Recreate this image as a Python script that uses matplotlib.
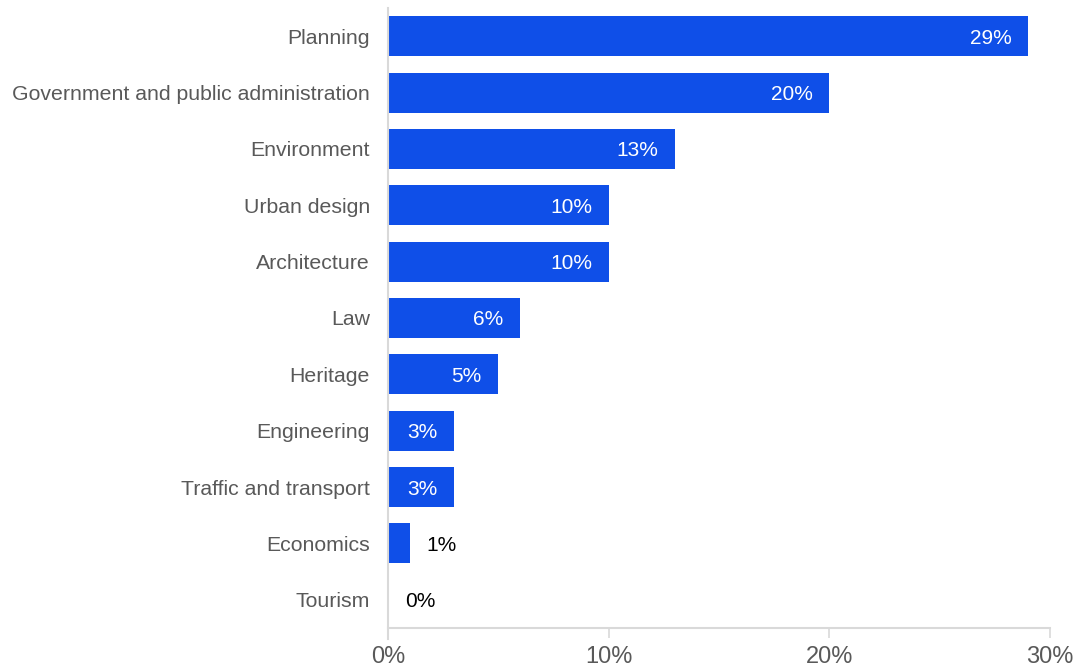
import matplotlib.pyplot as plt
from matplotlib.ticker import FuncFormatter

# data
categories = ["Planning", "Government and public administration", "Environment",
              "Urban design", "Architecture", "Law", "Heritage", "Engineering",
              "Traffic and transport", "Economics", "Tourism"]
shares = [29, 20, 13, 10, 10, 6, 5, 3, 3, 1, 0]

plt.rcParams['font.family'] = ['Liberation Sans', 'DejaVu Sans']

fig = plt.figure(figsize=(10.82, 6.71), dpi=100)
ax = fig.add_axes([388/1082, 1 - 628/671, (1050 - 388)/1082, (628 - 8)/671])

bar_color = "#0f4fe8"
grey = "#d9d9d9"
ypos = list(range(len(categories)))
ax.barh(ypos, shares, height=0.71, color=bar_color)

for y, v in zip(ypos, shares):
    if v >= 3:
        ax.annotate(f"{v}%", (v, y), xytext=(-12, 0), textcoords="offset points",
                    ha="right", va="center_baseline", color="white", fontsize=15)
    else:
        ax.annotate(f"{v}%", (v, y), xytext=(12, 0), textcoords="offset points",
                    ha="left", va="center_baseline", color="black", fontsize=15)

ax.set_xlim(0, 30)
ax.set_ylim(len(categories) - 0.5, -0.5)
ax.set_yticks(ypos)
ax.set_yticklabels(categories, fontsize=15.3, color="#595959", va="center_baseline")
ax.set_xticks([0, 10, 20, 30])
ax.xaxis.set_major_formatter(FuncFormatter(lambda x, p: f"{x:.0f}%"))
ax.tick_params(axis="x", colors=grey, length=7, width=1.2, labelsize=17, labelcolor="#595959", pad=6)
ax.tick_params(axis="y", length=0, pad=13)

for s in ["top", "right"]:
    ax.spines[s].set_visible(False)
ax.spines["left"].set_color(grey)
ax.spines["bottom"].set_color(grey)
ax.spines["left"].set_linewidth(1.5)
ax.spines["bottom"].set_linewidth(1.5)
ax.spines["left"].set_bounds(len(categories) - 0.5 + 0.2, -0.5)

fig.savefig("out.png", dpi=100)
